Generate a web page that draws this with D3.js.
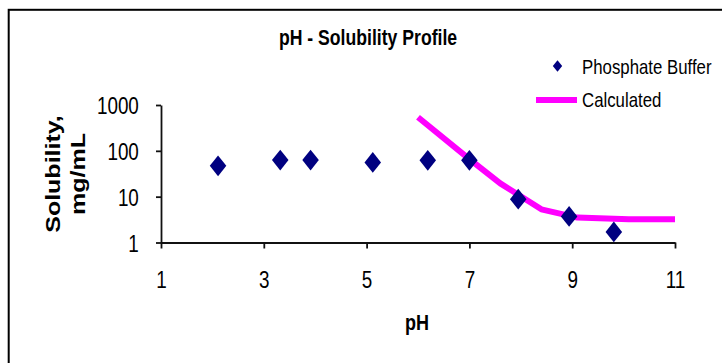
<!DOCTYPE html>
<html>
<head>
<meta charset="utf-8">
<script src="https://cdn.jsdelivr.net/npm/d3@7"></script>
<style>
  html, body { margin: 0; padding: 0; background: #fff; overflow: hidden; }
</style>
</head>
<body>
<svg id="chart" width="722" height="363"></svg>
<script>
// measured points (phosphate buffer)
const bufferPH = [2.11, 3.32, 3.91, 5.12, 6.19, 7.0, 7.95, 8.94, 9.81];
const bufferSol = [47, 63, 63, 56, 62, 62, 8.8, 3.7, 1.7];

// calculated profile
const calcPH = [6.0, 7.0, 7.6, 8.4, 9.1, 10.1, 11.0];
const calcSol = [540, 66, 19.5, 5.3, 3.5, 3.2, 3.2];

// tick values
const xTicks = [1, 3, 5, 7, 9, 11];
const yTicks = [1, 10, 100, 1000];

const FONT = "'Liberation Sans', Arial, sans-serif";
const SX = 0.82; // the original picture is squeezed horizontally

const svg = d3.select("#chart");

// outer frame (runs off the right and bottom edges)
svg.append("rect")
  .attr("x", 8.7).attr("y", 9.8)
  .attr("width", 800).attr("height", 400)
  .attr("fill", "none")
  .attr("stroke", "#000")
  .attr("stroke-width", 2);

// scales
const x = d3.scaleLinear().domain([1, 11]).range([161, 675]);
const y = d3.scaleLog().domain([1, 1000]).range([242.5, 105]);

// helper for squeezed text, optional rotation
function addText(text, px, py, size, weight = "normal", anchor = "start", rot = 0) {
  svg.append("text")
    .attr("transform", `translate(${px},${py}) scale(${SX},1)` + (rot ? ` rotate(${rot})` : ""))
    .attr("text-anchor", anchor)
    .attr("font-family", FONT)
    .attr("font-size", size)
    .attr("font-weight", weight)
    .attr("fill", "#000")
    .text(text);
}

// axes
const xAxis = svg.append("g")
  .attr("transform", `translate(0,${y(1)})`)
  .call(d3.axisBottom(x).tickValues(xTicks).tickSize(6).tickSizeOuter(0).tickPadding(8));
const yAxis = svg.append("g")
  .attr("transform", `translate(${x(1)},0)`)
  .call(d3.axisLeft(y).tickValues(yTicks).tickFormat(d3.format("d")).tickSize(5).tickSizeOuter(0).tickPadding(22));

[xAxis, yAxis].forEach(g => {
  g.selectAll("path, line").attr("stroke", "#111").attr("stroke-width", 1.8);
  g.selectAll("text")
    .attr("font-family", FONT)
    .attr("font-size", 23)
    .attr("fill", "#000")
    .attr("transform", `scale(${SX},1)`);
});
xAxis.selectAll("text").attr("dy", null).attr("y", 45.5);
yAxis.selectAll("text").attr("dy", null).attr("y", 8.5);

// calculated line
const line = d3.line()
  .x((d, i) => x(calcPH[i]))
  .y(d => y(d));
svg.append("path")
  .datum(calcSol)
  .attr("fill", "none")
  .attr("stroke", "#ff00ff")
  .attr("stroke-width", 6)
  .attr("stroke-linejoin", "round")
  .attr("d", line);

// buffer diamonds
const diamond = d3.symbol().type(d3.symbolSquare).size(214);
svg.selectAll(".pt")
  .data(bufferSol)
  .join("path")
  .attr("class", "pt")
  .attr("d", diamond)
  .attr("transform", (d, i) => `translate(${x(bufferPH[i])},${y(d)}) scale(0.8,1) rotate(45)`)
  .attr("fill", "#000080");

// title
addText("pH - Solubility Profile", 368, 45, 21.5, "bold", "middle");

// legend
svg.append("path")
  .attr("d", d3.symbol().type(d3.symbolSquare).size(68))
  .attr("transform", "translate(557.5,66) scale(0.8,1) rotate(45)")
  .attr("fill", "#000080");
addText("Phosphate Buffer", 582, 74, 20.5);
svg.append("line")
  .attr("x1", 536).attr("x2", 577)
  .attr("y1", 100).attr("y2", 100)
  .attr("stroke", "#ff00ff")
  .attr("stroke-width", 6);
addText("Calculated", 582, 107, 20.5);

// axis titles
addText("pH", 417, 330, 22, "bold", "middle");
addText("Solubility,", 60, 174, 25, "bold", "middle", -90);
addText("mg/mL", 85, 174, 25, "bold", "middle", -90);
</script>
</body>
</html>
